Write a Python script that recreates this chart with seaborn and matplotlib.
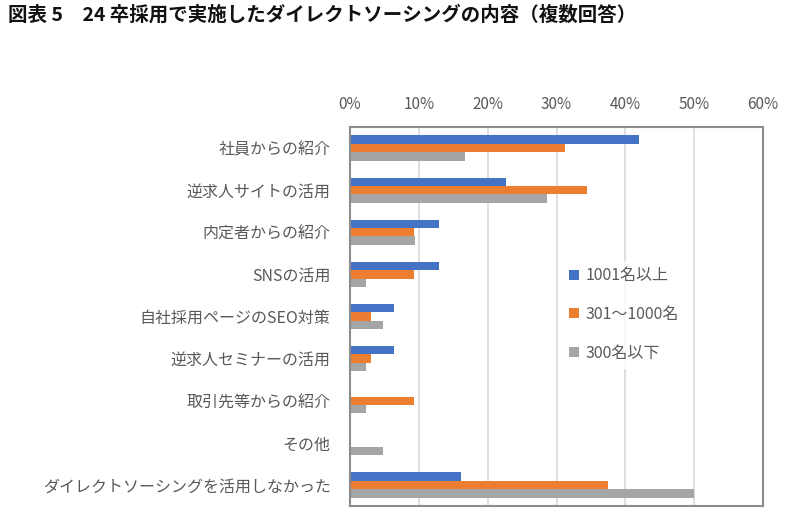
import matplotlib
matplotlib.use("Agg")
import matplotlib.pyplot as plt
import seaborn as sns
import pandas as pd

categories = ["社員からの紹介", "逆求人サイトの活用", "内定者からの紹介", "SNSの活用",
              "自社採用ページのSEO対策", "逆求人セミナーの活用", "取引先等からの紹介",
              "その他", "ダイレクトソーシングを活用しなかった"]
series_names = ["1001名以上", "301～1000名", "300名以下"]
large = [42.0, 22.6, 12.9, 12.9, 6.4, 6.4, 0.0, 0.0, 16.1]
mid = [31.3, 34.4, 9.3, 9.3, 3.1, 3.1, 9.3, 0.0, 37.5]
small = [16.7, 28.6, 9.4, 2.3, 4.8, 2.3, 2.3, 4.8, 50.0]
xticks = [0, 10, 20, 30, 40, 50, 60]
xtick_labels = ["0%", "10%", "20%", "30%", "40%", "50%", "60%"]
colors = ["#4472C4", "#ED7D31", "#A5A5A5"]
title = "図表 5　24 卒採用で実施したダイレクトソーシングの内容（複数回答）"

sns.set_theme(style="white")
plt.rcParams["font.family"] = ["Noto Sans CJK JP", "DejaVu Sans"]

rows = []
for s, vals in zip(series_names, [large, mid, small]):
    for c, v in zip(categories, vals):
        rows.append({"category": c, "series": s, "value": v})
df = pd.DataFrame(rows)

fig = plt.figure(figsize=(7.95, 5.17), dpi=100)
ax = fig.add_axes([350/795, 1-506/517, (763-350)/795, (506-127)/517])

sns.barplot(data=df, y="category", x="value", hue="series", order=categories,
            hue_order=series_names, palette=colors, orient="h", width=0.6,
            linewidth=0, saturation=1, ax=ax, legend=True)

ax.set_xlim(0, 60)
ax.set_xticks(xticks)
ax.set_xticklabels(xtick_labels)
ax.xaxis.tick_top()
ax.tick_params(axis="x", length=0, pad=10, labelsize=11, labelcolor="#595959")
ax.tick_params(axis="y", length=0, pad=14, labelsize=11.5, labelcolor="#595959")
ax.set_xlabel("")
ax.set_ylabel("")
ax.grid(axis="x", color="#D9D9D9", linewidth=1.2)
ax.set_axisbelow(True)
for sp in ax.spines.values():
    sp.set_color("#8C8C8C")
    sp.set_linewidth(1.5)
    sp.set_visible(True)

handles, labels = ax.get_legend_handles_labels()
ax.get_legend().remove()
leg = fig.legend(handles, labels, loc="upper left",
                 bbox_to_anchor=(555/795, 1-253/517), frameon=True,
                 facecolor="white", edgecolor="white", fancybox=False,
                 fontsize=11.5, handlelength=0.6, handleheight=0.6,
                 handletextpad=0.4, labelspacing=1.35, borderpad=0.4)
for t in leg.get_texts():
    t.set_color("#595959")
leg.set_zorder(10)

fig.text(8/795, 1-15/517, title, fontsize=14, fontweight="bold",
         va="center", ha="left", color="#111111")

fig.savefig("out.png", dpi=100)
